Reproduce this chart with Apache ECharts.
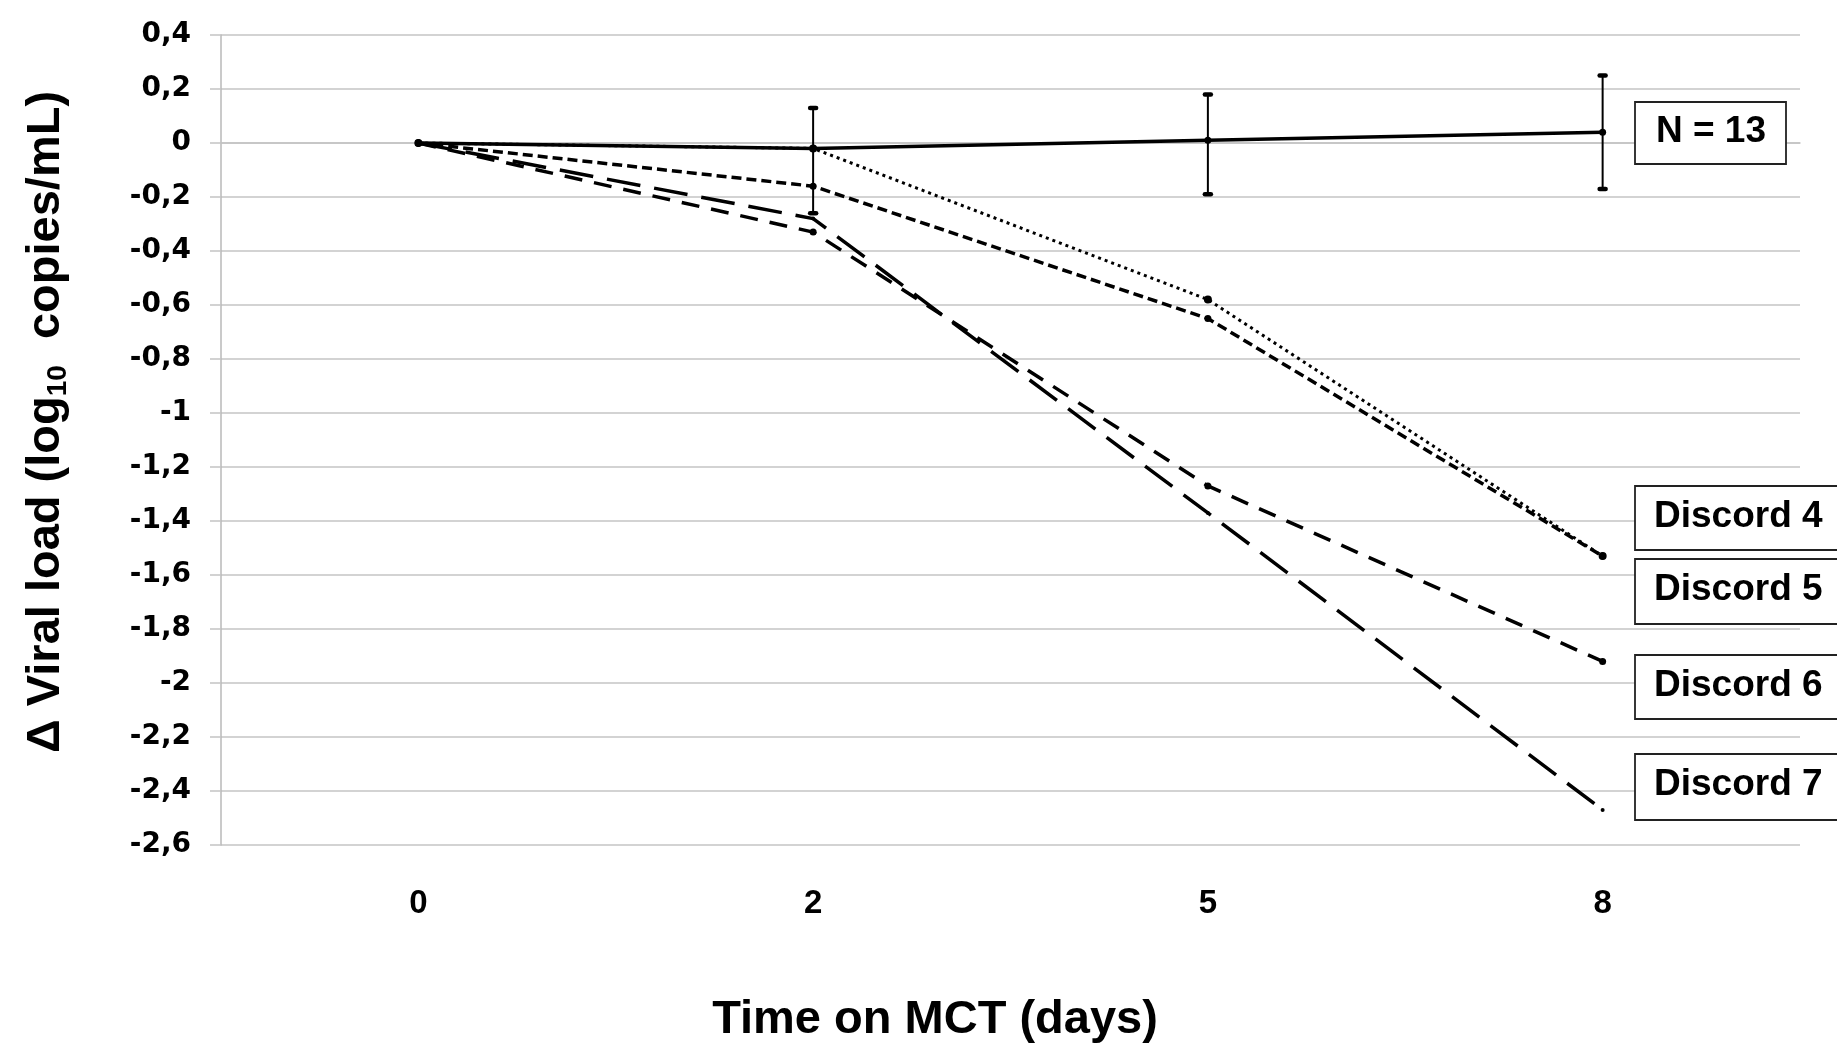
<!DOCTYPE html>
<html><head><meta charset="utf-8">
<script src="https://cdn.jsdelivr.net/npm/echarts@6/dist/echarts.min.js"></script>
<style>html,body{margin:0;padding:0;background:#fff}#c{width:1837px;height:1046px}</style>
</head><body><div id="c"></div>
<script>
// ---- data ----
const days = ['0', '2', '5', '8'];
const meanN13 = [0, -0.02, 0.01, 0.04];
const errLowN13 = [null, -0.26, -0.19, -0.17];
const errHighN13 = [null, 0.13, 0.18, 0.25];
const discord4 = [0, -0.02, -0.58, -1.53];
const discord5 = [0, -0.16, -0.65, -1.53];
const discord6 = [0, -0.33, -1.27, -1.92];
const discord7 = [0, -0.28, -1.37, -2.47];
const boxLabels = ['N = 13', 'Discord 4', 'Discord 5', 'Discord 6', 'Discord 7'];

const FONT = '"Liberation Sans", Arial, sans-serif';
const errorData = days.map((d, i) => [i, errLowN13[i], errHighN13[i]]).filter(r => r[1] !== null);

const chart = echarts.init(document.getElementById('c'), null, {renderer: 'canvas'});

function lineSeries(name, data, dash, width, sym) {
  return {
    name, type: 'line', data, z: 3,
    symbol: 'circle', symbolSize: sym, showSymbol: sym > 0,
    itemStyle: {color: '#000'},
    lineStyle: {color: '#000', width: width, type: dash},
    animation: false
  };
}

const boxes = [
  {t: boxLabels[0], x: 1635, y: 102, w: 151, h: 62, tx: 1711, ty: 132, align: 'center'},
  {t: boxLabels[1], x: 1635, y: 486, w: 260, h: 64, tx: 1654, ty: 517, align: 'left'},
  {t: boxLabels[2], x: 1635, y: 559, w: 260, h: 65, tx: 1654, ty: 590, align: 'left'},
  {t: boxLabels[3], x: 1635, y: 655, w: 260, h: 64, tx: 1654, ty: 686, align: 'left'},
  {t: boxLabels[4], x: 1635, y: 754, w: 260, h: 66, tx: 1654, ty: 785, align: 'left'}
];
const graphics = [];
boxes.forEach(b => {
  graphics.push({type: 'rect', x: b.x, y: b.y, shape: {width: b.w, height: b.h}, z: 10,
    style: {fill: '#fff', stroke: '#222', lineWidth: 1.8}});
  graphics.push({type: 'text', x: b.tx, y: b.ty, z: 11,
    style: {text: b.t, fill: '#000', fontSize: 37, fontWeight: 'bold', fontFamily: FONT,
      align: b.align, verticalAlign: 'middle'}});
});
graphics.push({type: 'text', x: 46, y: 422, rotation: Math.PI / 2, z: 11,
  style: {text: 'Δ Viral load (log{sub|10}  copies/mL)', fill: '#000', fontSize: 47, fontWeight: 'bold',
    fontFamily: FONT, align: 'center', verticalAlign: 'middle', lineHeight: 52,
    rich: {sub: {fontSize: 28, fontWeight: 'bold', fontFamily: FONT, verticalAlign: 'bottom', lineHeight: 28}}}});
graphics.push({type: 'text', x: 935, y: 1020, z: 11,
  style: {text: 'Time on MCT (days)', fill: '#000', fontSize: 47, fontWeight: 'bold', fontFamily: FONT,
    align: 'center', verticalAlign: 'middle'}});

chart.setOption({
  animation: false,
  backgroundColor: '#fff',
  grid: {left: 221, right: 37, top: 35, bottom: 201, containLabel: false},
  xAxis: {
    type: 'category', data: days, boundaryGap: true,
    axisLine: {show: true, lineStyle: {color: '#c4c4c4', width: 1.5}},
    axisTick: {show: false},
    axisLabel: {margin: 42, fontSize: 33, fontWeight: 'bold', fontFamily: FONT, color: '#000'},
    splitLine: {show: false}
  },
  yAxis: {
    type: 'value', min: -2.6, max: 0.4, interval: 0.2,
    axisLine: {show: true, lineStyle: {color: '#b8b8b8', width: 1.5}},
    axisTick: {show: true, length: 11, lineStyle: {color: '#c4c4c4', width: 1.5}},
    axisLabel: {margin: 30, fontSize: 28, fontWeight: 'bold', fontFamily: '"DejaVu Sans", sans-serif', color: '#000',
      formatter: v => String(+v.toFixed(1)).replace('.', ',')},
    splitLine: {show: true, lineStyle: {color: '#c4c4c4', width: 1.5}}
  },
  series: [
    lineSeries('Discord 7', discord7, [34, 14], 3.5, 4),
    lineSeries('Discord 6', discord6, [18, 12], 3.5, 7),
    lineSeries('Discord 5', discord5, [10, 5], 3.5, 7),
    lineSeries('Discord 4', discord4, [3, 4], 3, 8),
    lineSeries('N = 13', meanN13, 'solid', 3.5, 7),
    {
      name: 'SD', type: 'custom', data: errorData, z: 4, animation: false,
      renderItem: function (params, api) {
        const x = api.value(0);
        const lo = api.coord([x, api.value(1)]);
        const hi = api.coord([x, api.value(2)]);
        const st = {stroke: '#000', lineWidth: 2};
        const cap = {stroke: '#000', lineWidth: 4.5, lineCap: 'round'};
        return {type: 'group', children: [
          {type: 'line', shape: {x1: hi[0], y1: hi[1], x2: lo[0], y2: lo[1]}, style: st},
          {type: 'line', shape: {x1: hi[0] - 3, y1: hi[1], x2: hi[0] + 3, y2: hi[1]}, style: cap},
          {type: 'line', shape: {x1: lo[0] - 3, y1: lo[1], x2: lo[0] + 3, y2: lo[1]}, style: cap}
        ]};
      }
    }
  ],
  graphic: graphics
});
</script></body></html>
